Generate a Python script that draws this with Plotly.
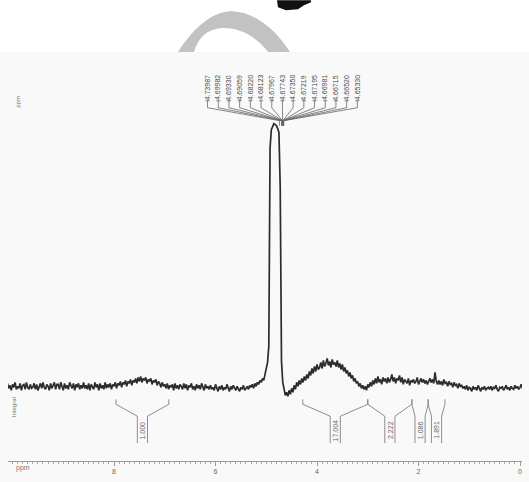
import plotly.graph_objects as go

# ---------------- data ----------------
ppm_start = 10.100
ppm_step = 0.025
intensity = [
    3, -2, 1, -4, 2, -1, 4, -3, 0, -2, 3, -4, 1, 2, -3, 4, -1, -3, 2, -2,          # 10.100 - 9.625
    -1, 3, -3, 2, -4, 1, 3, -2, 4, -1, -3, 2, 0, -4, 3, -2, 1, 4, -3, 2,           # 9.600 - 9.125
    2, -3, 4, -1, -4, 3, -2, 1, -3, 4, 0, -2, 3, -4, 2, -1, 3, -3, 1, -2,          # 9.100 - 8.625
    4, -2, 1, -3, 3, -4, 2, 0, -3, 4, -1, 2, -4, 3, -2, 1, -3, 4, -2, 2,           # 8.600 - 8.125
    -1, 3, -3, 2, 0, 4, -2, 3, 1, 5, -1, 4, 2, 6, 0, 5, 3, 7, 1, 6,                # 8.100 - 7.625
    4, 8, 3, 9, 5, 10, 4, 8, 6, 9, 3, 7, 5, 8, 2, 6, 4, 7, 1, 5,                   # 7.600 - 7.125
    3, -1, 4, 0, 2, -2, 3, -3, 1, -1, 2, -4, 3, -2, 1, -3, 2, 0, -3, 3,            # 7.100 - 6.625
    -2, 2, -4, 1, -1, 3, -3, 0, -4, 2, -2, 1, -3, 3, -1, -4, 2, -2, 0, -3,         # 6.600 - 6.125
    1, -3, -1, -4, 2, -2, -5, 0, -3, 1, -4, -1, -3, 2, -2, -5, 0, -3, 1, -2,       # 6.100 - 5.625
    -4, 0, -2, -5, -1, -3, 1, -4, -2, 0, -3, 1, -1, 2, -2, 3, 0, 4, 2, 6,          # 5.600 - 5.125
    4, 8, 6, 12, 15, 24, 40, 240, 258, 262, 264, 263, 262, 259, 255, 200, 25, 4, -5, -9,  # 5.100 - 4.625
    -6, -10, -4, -8, -2, -6, 1, -3, 4, 0, 6, 2, 8, 4, 10, 6, 12, 8, 15, 11,        # 4.600 - 4.125
    18, 13, 20, 15, 22, 17, 19, 24, 18, 26, 20, 23, 28, 21, 25, 19, 27, 22, 24, 20,  # 4.100 - 3.625
    26, 19, 23, 17, 22, 15, 19, 13, 16, 10, 14, 8, 11, 5, 8, 3, 5, 0, 3, -2,       # 3.600 - 3.125
    1, -3, 0, -4, 2, -1, 4, 0, 6, 2, 8, 3, 10, 4, 7, 2, 9, 5, 8, 3,                # 3.100 - 2.625
    9, 4, 7, 12, 5, 9, 3, 8, 6, 11, 4, 9, 2, 7, 5, 3, 8, 1, 6, 4,                  # 2.600 - 2.125
    7, 3, 5, 9, 2, 6, 8, 4, 7, 3, 6, 2, 5, 8, 4, 7, 3, 14, 5, 2,                   # 2.100 - 1.625
    6, 2, 5, 1, 7, 3, 4, 0, 5, 2, 3, -1, 4, 1, 2, -2, 3, 0, 1, -2,                 # 1.600 - 1.125
    0, -3, 1, -4, -1, -2, -5, 0, -3, -1, -4, 1, -2, -5, -1, -3, 0, -4, -2, -1,     # 1.100 - 0.625
    -3, 0, -4, -1, -2, 1, -3, -5, -1, -2, 0, -4, -2, 1, -3, -1, -4, 0, -2, -3,     # 0.600 - 0.125
    1, -2, 0, -3, -1, 2, -2, -1,                                                   # 0.100 - -0.075
]
ppm = [round(ppm_start - ppm_step * i, 4) for i in range(len(intensity))]

peak_labels = ["4.73987", "4.69982", "4.69330", "4.69059", "4.68220", "4.68123",
               "4.67967", "4.67743", "4.67350", "4.67219", "4.67195", "4.66981",
               "4.66715", "4.66520", "4.65330"]

integral_start = [7.96, 4.28, 3.00, 2.13, 1.81]
integral_end = [6.92, 3.00, 2.13, 1.81, 1.48]
integral_values = ["1.000", "17.004", "2.222", "1.086", "1.891"]

tick_vals = [8, 6, 4, 2, 0]
tick_text = ["8", "6", "4", "2", "0"]

# ---------------- layout helpers (pixel geometry of the page) ----------------
W, H = 529, 482
ML, MR, MT, MB = 8, 7, 52, 19
PX_PER_PPM = 50.75
X0 = 10.089
X1 = X0 - (W - ML - MR) / PX_PER_PPM
BASE_PX = 388
Y0 = BASE_PX - (H - MB)
Y1 = BASE_PX - MT


def vy(py):
    return BASE_PX - py


def xp(px):
    return (px - ML) / (W - ML - MR)


def yp(py):
    return (H - MB - py) / (H - MT - MB)


fig = go.Figure()
fig.add_trace(go.Scatter(x=ppm, y=intensity, mode="lines",
                         line=dict(color="#2c2c2c", width=1.7),
                         hoverinfo="skip", showlegend=False))

shapes = []
annotations = []

# white page above the spectrum panel
shapes.append(dict(type="rect", xref="paper", yref="paper",
                   x0=xp(0), x1=xp(W), y0=yp(MT), y1=yp(0),
                   fillcolor="white", line=dict(width=0), layer="below"))

# grey arc decoration at the top
pts = [(178, 52), (195, 25), (215, 10), (233, 11), (255, 12), (276, 30), (290, 52),
       (268, 52), (258, 38), (240, 27), (222, 28), (207, 29), (198, 38), (194, 52)]


def P(p):
    return f"{xp(p[0]):.5f},{yp(p[1]):.5f}"


arc_path = (f"M {P(pts[0])} C {P(pts[1])} {P(pts[2])} {P(pts[3])} "
            f"C {P(pts[4])} {P(pts[5])} {P(pts[6])} L {P(pts[7])} "
            f"C {P(pts[8])} {P(pts[9])} {P(pts[10])} "
            f"C {P(pts[11])} {P(pts[12])} {P(pts[13])} Z")
shapes.append(dict(type="path", xref="paper", yref="paper", path=arc_path,
                   fillcolor="#c2c2c2", line=dict(width=0)))

# dark fragment at the very top
blob = [(277, 0), (278, 7), (286, 10), (298, 9), (304, 5), (311, 2), (311, 0)]
blob_path = "M " + " L ".join(P(p) for p in blob) + " Z"
shapes.append(dict(type="path", xref="paper", yref="paper", path=blob_path,
                   fillcolor="#111111", line=dict(width=0)))

# peak labels and connectors
n = len(peak_labels)
peak_ppm = [float(s) for s in peak_labels]
center = sum(peak_ppm) / n
spacing = 10.7 / PX_PER_PPM
for i, (lab, pp) in enumerate(zip(peak_labels, peak_ppm)):
    lx = center + (n - 1) / 2 * spacing - i * spacing
    annotations.append(dict(x=lx, y=vy(88), xref="x", yref="y", text=lab,
                            textangle=-90, showarrow=False,
                            font=dict(size=7, color="#4a4a4a",
                                      family="Liberation Sans")))
    shapes.append(dict(type="line", xref="x", yref="y", x0=lx - 0.04, x1=lx + 0.04,
                       y0=vy(101), y1=vy(101), line=dict(color="#666666", width=0.8)))
    shapes.append(dict(type="line", xref="x", yref="y", x0=lx, x1=lx,
                       y0=vy(101), y1=vy(108), line=dict(color="#666666", width=0.8)))
    shapes.append(dict(type="line", xref="x", yref="y", x0=lx, x1=pp,
                       y0=vy(108), y1=vy(121), line=dict(color="#666666", width=0.8)))
    shapes.append(dict(type="line", xref="x", yref="y", x0=pp, x1=pp,
                       y0=vy(121), y1=vy(126), line=dict(color="#666666", width=0.8)))

# integrals
for s, e, val in zip(integral_start, integral_end, integral_values):
    c = (s + e) / 2
    half = 0.1
    seg = [
        (s, vy(401), s, vy(406)),
        (s, vy(406), c + half, vy(418)),
        (c + half, vy(418), c + half, vy(445)),
        (e, vy(401), e, vy(406)),
        (e, vy(406), c - half, vy(418)),
        (c - half, vy(418), c - half, vy(445)),
    ]
    for x0, y0, x1, y1 in seg:
        shapes.append(dict(type="line", xref="x", yref="y", x0=x0, y0=y0, x1=x1, y1=y1,
                           line=dict(color="#808080", width=0.9)))
    annotations.append(dict(x=c, y=vy(432), xref="x", yref="y", text=val,
                            textangle=-90, showarrow=False,
                            font=dict(size=7, color="#666666",
                                      family="Liberation Sans")))

# side labels
annotations.append(dict(x=xp(13), y=yp(94), xref="paper", yref="paper", text="ppm",
                        textangle=-90, showarrow=False,
                        font=dict(size=6, color="#777777", family="Liberation Sans")))
annotations.append(dict(x=xp(9), y=yp(421), xref="paper", yref="paper", text="Integral",
                        textangle=-90, showarrow=False,
                        font=dict(size=6, color="#777777", family="Liberation Sans")))
annotations.append(dict(x=xp(14), y=yp(476), xref="paper", yref="paper", text="ppm",
                        showarrow=False,
                        font=dict(size=7, color="#777777", family="Liberation Sans")))

fig.update_layout(
    width=W, height=H,
    margin=dict(l=ML, r=MR, t=MT, b=MB, pad=0),
    paper_bgcolor="#f9f9f9",
    plot_bgcolor="#f9f9f9",
    shapes=shapes,
    annotations=annotations,
    showlegend=False,
    xaxis=dict(range=[X0, X1], showgrid=False, zeroline=False,
               showline=True, linecolor="#9a9a9a", linewidth=1,
               ticks="outside", ticklen=4, tickwidth=1, tickcolor="#9a9a9a",
               tickvals=tick_vals, ticktext=tick_text,
               tickfont=dict(size=7, color="#666666", family="Liberation Sans"),
               minor=dict(dtick=0.1, ticks="outside", ticklen=2,
                          tickcolor="#a8a8a8", tickwidth=1, showgrid=False)),
    yaxis=dict(range=[Y0, Y1], visible=False, showgrid=False, zeroline=False),
)

fig.write_html("out.html", config={"displayModeBar": False},
               post_script="document.body.style.margin='0px';")
